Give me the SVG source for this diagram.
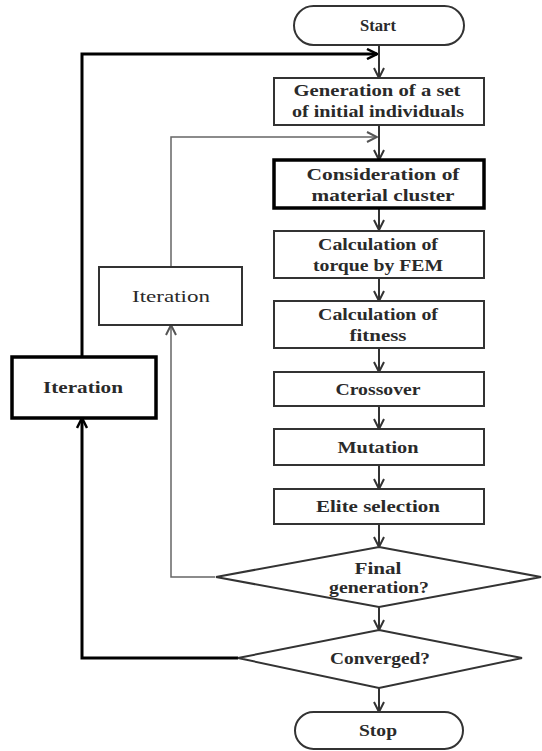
<svg xmlns="http://www.w3.org/2000/svg" width="542" height="751" viewBox="0 0 542 751">
<defs>
<style>
.box{fill:#fff;stroke:#333;stroke-width:2}
.thick{fill:#fff;stroke:#000;stroke-width:3.5}
.t{font-family:"Liberation Serif","DejaVu Serif",serif;font-weight:bold;font-size:16.5px;fill:#2a2a2a;text-anchor:middle}
.tr{font-family:"Liberation Serif","DejaVu Serif",serif;font-size:16.5px;fill:#2a2a2a;text-anchor:middle}
.c{fill:none;stroke:#333;stroke-width:2}
.cg{fill:none;stroke:#666;stroke-width:1.5}
.ck{fill:none;stroke:#000;stroke-width:3}
</style>
<marker id="ah" viewBox="0 0 12 12" refX="11" refY="6" markerWidth="12" markerHeight="12" markerUnits="userSpaceOnUse" orient="auto">
<path d="M1,1 L11,6 L1,11" fill="none" stroke="#333" stroke-width="2"/>
</marker>
<marker id="ahk" viewBox="0 0 12 12" refX="11" refY="6" markerWidth="12" markerHeight="12" markerUnits="userSpaceOnUse" orient="auto">
<path d="M1,1 L11,6 L1,11" fill="none" stroke="#000" stroke-width="2.5"/>
</marker>
<marker id="ahg" viewBox="0 0 12 12" refX="11" refY="6" markerWidth="12" markerHeight="12" markerUnits="userSpaceOnUse" orient="auto">
<path d="M1,1 L11,6 L1,11" fill="none" stroke="#555" stroke-width="2"/>
</marker>
</defs>
<g id="connectors">
<path class="c" d="M379,45 V78" marker-end="url(#ah)"/>
<path class="ck" d="M82,357 V54 H377" marker-end="url(#ahk)"/>
<path class="c" d="M379,125 V160" marker-end="url(#ah)"/>
<path class="cg" d="M171,267 V137 H377" marker-end="url(#ahg)"/>
<path class="c" d="M379,208 V230" marker-end="url(#ah)"/>
<path class="c" d="M379,278 V301" marker-end="url(#ah)"/>
<path class="c" d="M379,348 V372" marker-end="url(#ah)"/>
<path class="c" d="M379,406 V429" marker-end="url(#ah)"/>
<path class="c" d="M379,465 V489" marker-end="url(#ah)"/>
<path class="c" d="M379,524 V547" marker-end="url(#ah)"/>
<path class="c" d="M379,607 V630" marker-end="url(#ah)"/>
<path class="c" d="M379,688 V712" marker-end="url(#ah)"/>
<path class="cg" d="M215,577 H171 V325" marker-end="url(#ahg)"/>
<path class="ck" d="M238,658 H82 V418" marker-end="url(#ahk)"/>
</g>
<g id="start">
<rect class="box" x="294" y="6" width="170" height="39" rx="19.5"/>
<text class="t" x="378" y="31" textLength="36" lengthAdjust="spacingAndGlyphs">Start</text>
</g>
<g id="init">
<rect class="box" x="274" y="78" width="210" height="47"/>
<text class="t" x="377" y="96" textLength="167" lengthAdjust="spacingAndGlyphs">Generation of a set</text>
<text class="t" x="378" y="117" textLength="172" lengthAdjust="spacingAndGlyphs">of initial individuals</text>
</g>
<g id="cluster">
<rect class="thick" x="274" y="160" width="210" height="48"/>
<text class="t" x="383" y="180" textLength="153" lengthAdjust="spacingAndGlyphs">Consideration of</text>
<text class="t" x="383" y="201" textLength="143" lengthAdjust="spacingAndGlyphs">material cluster</text>
</g>
<g id="torque">
<rect class="box" x="274" y="231" width="210" height="47"/>
<text class="t" x="378" y="250" textLength="120" lengthAdjust="spacingAndGlyphs">Calculation of</text>
<text class="t" x="378" y="271" textLength="130" lengthAdjust="spacingAndGlyphs">torque by FEM</text>
</g>
<g id="fitness">
<rect class="box" x="274" y="301" width="210" height="47"/>
<text class="t" x="378" y="320" textLength="120" lengthAdjust="spacingAndGlyphs">Calculation of</text>
<text class="t" x="378" y="341" textLength="57" lengthAdjust="spacingAndGlyphs">fitness</text>
</g>
<g id="crossover">
<rect class="box" x="274" y="372" width="210" height="34"/>
<text class="t" x="378" y="395" textLength="85" lengthAdjust="spacingAndGlyphs">Crossover</text>
</g>
<g id="mutation">
<rect class="box" x="274" y="429" width="210" height="36"/>
<text class="t" x="378" y="453" textLength="81" lengthAdjust="spacingAndGlyphs">Mutation</text>
</g>
<g id="elite">
<rect class="box" x="274" y="489" width="210" height="35"/>
<text class="t" x="378" y="512" textLength="124" lengthAdjust="spacingAndGlyphs">Elite selection</text>
</g>
<g id="final">
<polygon class="box" points="379,547 541,577 379,607 216,577"/>
<text class="t" x="378" y="574" textLength="47" lengthAdjust="spacingAndGlyphs">Final</text>
<text class="t" x="379" y="593" textLength="100" lengthAdjust="spacingAndGlyphs">generation?</text>
</g>
<g id="converged">
<polygon class="box" points="379,630 522,658 379,688 238,658"/>
<text class="t" x="380" y="664" textLength="100" lengthAdjust="spacingAndGlyphs">Converged?</text>
</g>
<g id="stop">
<rect class="box" x="295" y="712" width="168" height="37" rx="18.5"/>
<text class="t" x="378" y="736" textLength="38" lengthAdjust="spacingAndGlyphs">Stop</text>
</g>
<g id="iter-inner">
<rect class="box" x="99" y="267" width="143" height="58"/>
<text class="tr" x="171" y="302" textLength="78" lengthAdjust="spacingAndGlyphs">Iteration</text>
</g>
<g id="iter-outer">
<rect class="thick" x="12" y="357" width="144" height="61"/>
<text class="t" x="83" y="393" textLength="80" lengthAdjust="spacingAndGlyphs">Iteration</text>
</g>
</svg>
